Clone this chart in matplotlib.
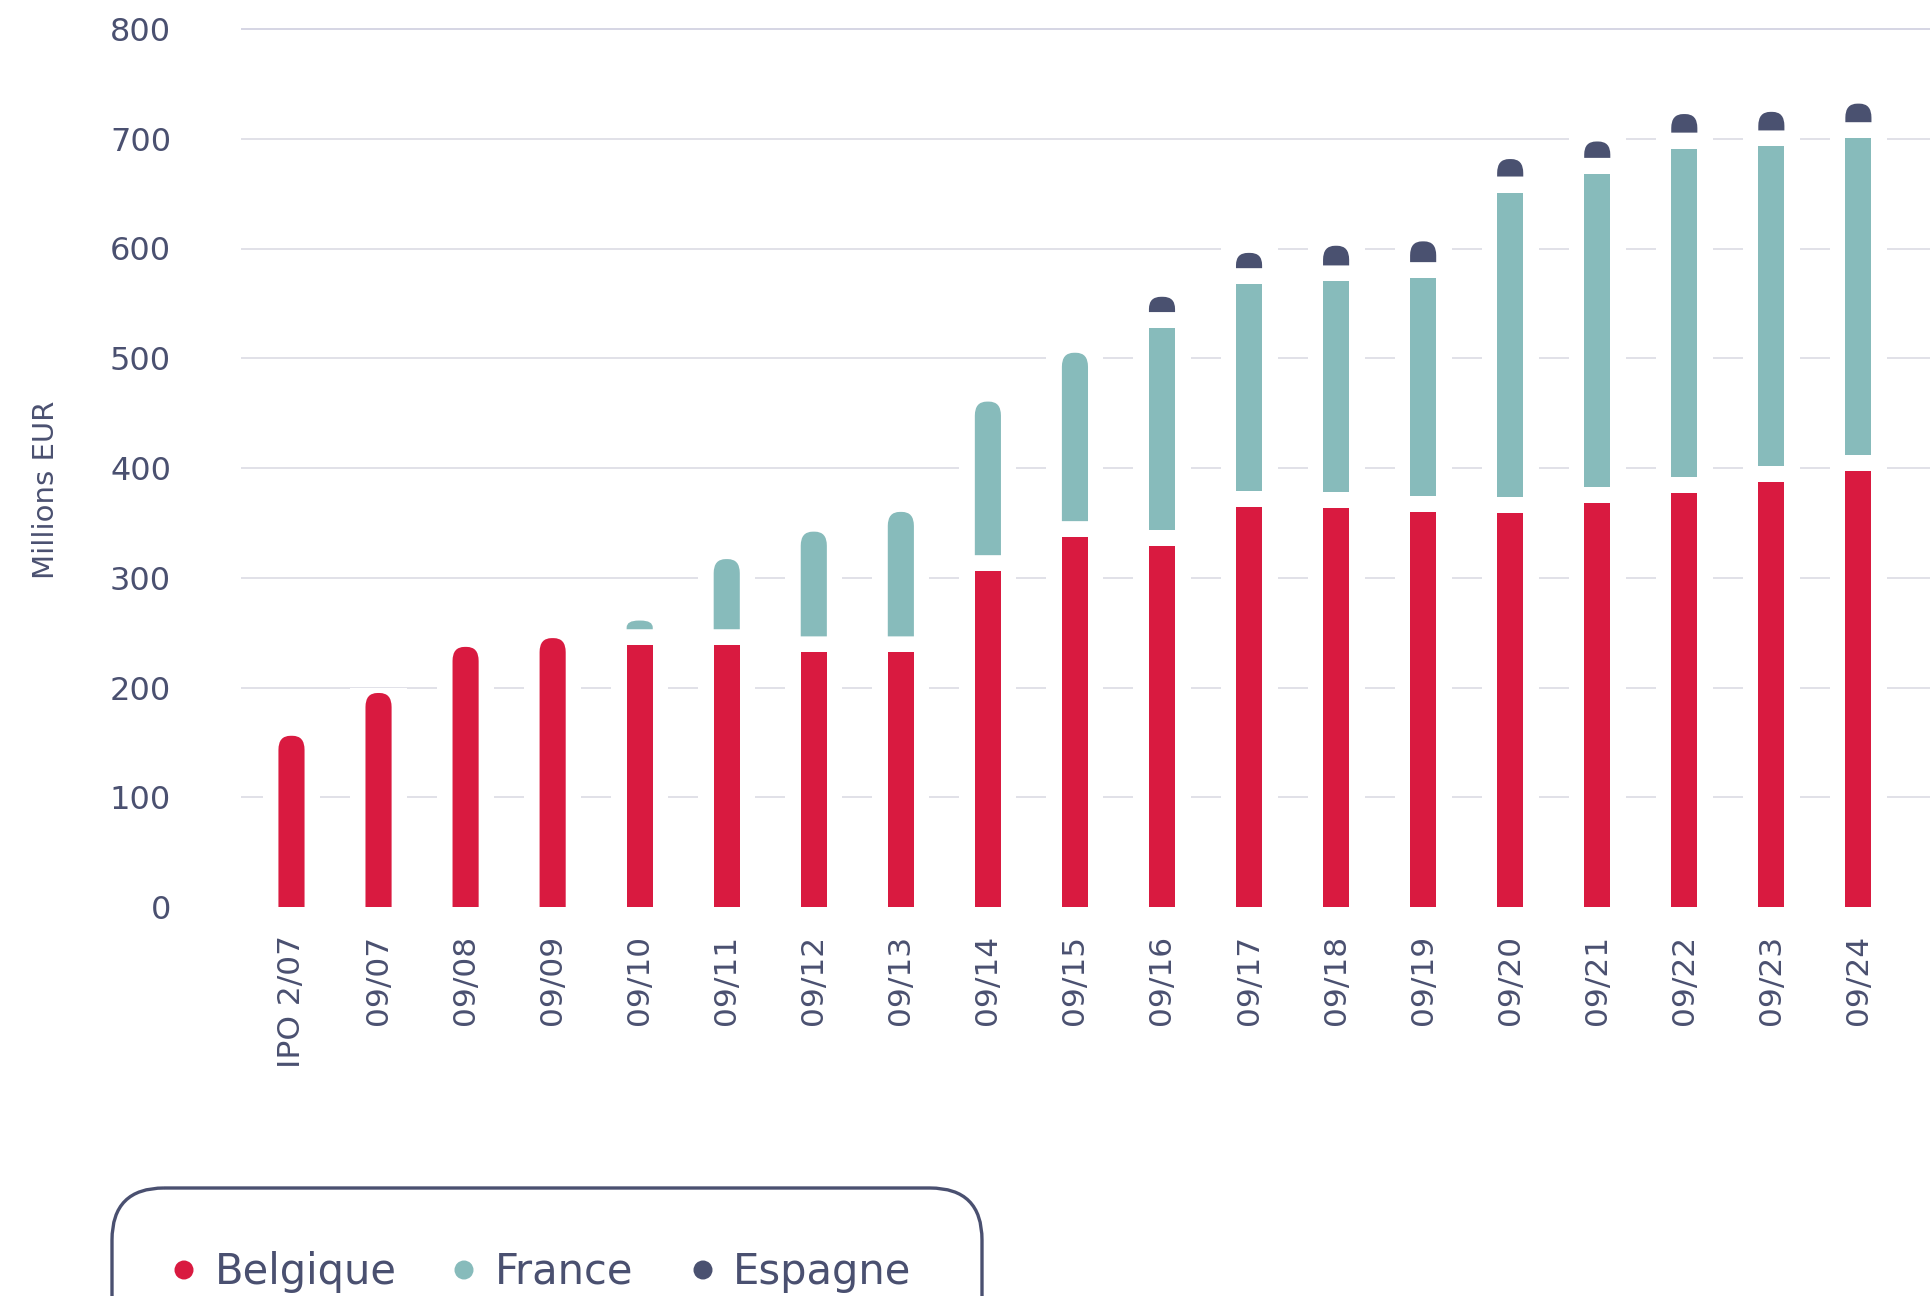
import matplotlib
matplotlib.use("Agg")
import matplotlib.pyplot as plt
from matplotlib.path import Path
from matplotlib.patches import PathPatch, Rectangle, FancyBboxPatch, Circle

# Portfolio value by country (millions EUR)
LABELS = ["IPO 2/07", "09/07", "09/08", "09/09", "09/10", "09/11", "09/12",
          "09/13", "09/14", "09/15", "09/16", "09/17", "09/18", "09/19",
          "09/20", "09/21", "09/22", "09/23", "09/24"]
BELGIQUE = [156, 195, 237, 245, 238.5, 238.5, 232, 232, 306, 337, 328.5,
            364.5, 364, 360, 359, 368, 377.5, 387.5, 397]
FRANCE = [0, 0, 0, 0, 22.5, 78.5, 110, 128, 154.5, 168, 199, 203, 206, 213,
          292, 300, 313.5, 305.5, 303.5]
ESPAGNE = [0, 0, 0, 0, 0, 0, 0, 0, 0, 0, 28.5, 28.5, 32.5, 33.5, 30.5, 29.5,
           31.5, 31.5, 31.5]

SERIES = ["Belgique", "France", "Espagne"]
VALUES = {"Belgique": BELGIQUE, "France": FRANCE, "Espagne": ESPAGNE}
COLORS = {"Belgique": "#d91a40", "France": "#87bbbb", "Espagne": "#4a5170"}
YTICKS = list(range(0, 900, 100))

TEXT = "#4a5070"
GRID = "#dedee6"
FONT = "DejaVu Sans"

W, H = 1931, 1296
AX_L, AX_B, AX_T = 241, 907, 29          # axes box in pixels
BAR_W = 0.30                             # bar width (category units)
HALO_W = 0.655                           # white clearance round each bar
GAP_PX = 16                              # white gap between stacked segments
RX_PX, RY_PX = 12, 14                    # top corner rounding


def rounded_top(x0, x1, y0, y1, rx, ry):
    ry = min(ry, 0.8 * (y1 - y0))
    verts = [(x0, y0), (x1, y0), (x1, y1 - ry), (x1, y1), (x1 - rx, y1),
             (x0 + rx, y1), (x0, y1), (x0, y1 - ry), (x0, y0)]
    codes = [Path.MOVETO, Path.LINETO, Path.LINETO, Path.CURVE3, Path.CURVE3,
             Path.LINETO, Path.CURVE3, Path.CURVE3, Path.CLOSEPOLY]
    return Path(verts, codes)


fig = plt.figure(figsize=(W / 100, H / 100), dpi=100)
ax = fig.add_axes([AX_L / W, (H - AX_B) / H, (W - AX_L) / W, (AX_B - AX_T) / H])
xlim = (-0.58, len(LABELS) - 1 + 0.834)
ax.set_xlim(xlim)
ax.set_ylim(0, 800)

px_x = (W - AX_L) / (xlim[1] - xlim[0])
px_y = (AX_B - AX_T) / 800
gap = GAP_PX / px_y
rx, ry = RX_PX / px_x, RY_PX / px_y

# grid lines (no line at 0)
ax.hlines(YTICKS[1:-1], xlim[0], xlim[1], color=GRID, lw=1.3, zorder=1,
          clip_on=False)
ax.hlines(YTICKS[-1], xlim[0], xlim[1], color="#d2d2e2", lw=1.3, zorder=1,
          clip_on=False)

for i in range(len(LABELS)):
    segs = [(s, VALUES[s][i]) for s in SERIES if VALUES[s][i] > 0]
    total = sum(v for _, v in segs)
    ax.add_patch(Rectangle((i - HALO_W / 2, 0), HALO_W, total + 5 / px_y,
                           facecolor="white", edgecolor="none", zorder=1.5))
    base = 0
    for k, (s, v) in enumerate(segs):
        y0 = base + (gap if k > 0 else 0)
        y1 = base + v
        x0, x1 = i - BAR_W / 2, i + BAR_W / 2
        if k == len(segs) - 1:
            patch = PathPatch(rounded_top(x0, x1, y0, y1, rx, ry),
                              facecolor=COLORS[s], edgecolor="none", zorder=2)
        else:
            patch = Rectangle((x0, y0), BAR_W, y1 - y0,
                              facecolor=COLORS[s], edgecolor="none", zorder=2)
        ax.add_patch(patch)
        base = y1

for sp in ax.spines.values():
    sp.set_visible(False)
ax.set_yticks(YTICKS)
ax.set_yticklabels([str(v) for v in YTICKS], fontsize=23, color=TEXT,
                   family=FONT)
ax.set_xticks(range(len(LABELS)))
ax.set_xticklabels(LABELS, rotation=90, fontsize=22.5, color=TEXT,
                   family=FONT)
ax.tick_params(axis="y", length=0, pad=(AX_L - 171) / 1.389)
ax.tick_params(axis="x", length=0, pad=(935 - AX_B) / 1.389)

fig.text(46 / W, 1 - 490 / H, "Millions EUR", rotation=90, ha="center",
         va="center", fontsize=21, color=TEXT, family=FONT)

# legend box (cut off by the bottom of the figure, as in the original)
lax = fig.add_axes([0, 0, 1, 1])
lax.set_xlim(0, W)
lax.set_ylim(H, 0)
lax.axis("off")
lax.add_patch(FancyBboxPatch((112, 1188), 870, 220,
                             boxstyle="round,pad=0,rounding_size=52",
                             facecolor="none", edgecolor=TEXT, lw=2.4))
dot_x = [184, 464, 703]
text_x = [215, 495, 733]
for s, dx, tx in zip(SERIES, dot_x, text_x):
    lax.add_patch(Circle((dx, 1270), 9.5, facecolor=COLORS[s],
                         edgecolor="none"))
    lax.text(tx, 1284, s, fontsize=30, color=TEXT, family=FONT,
             va="baseline", ha="left")

fig.savefig("out.png", dpi=100)
